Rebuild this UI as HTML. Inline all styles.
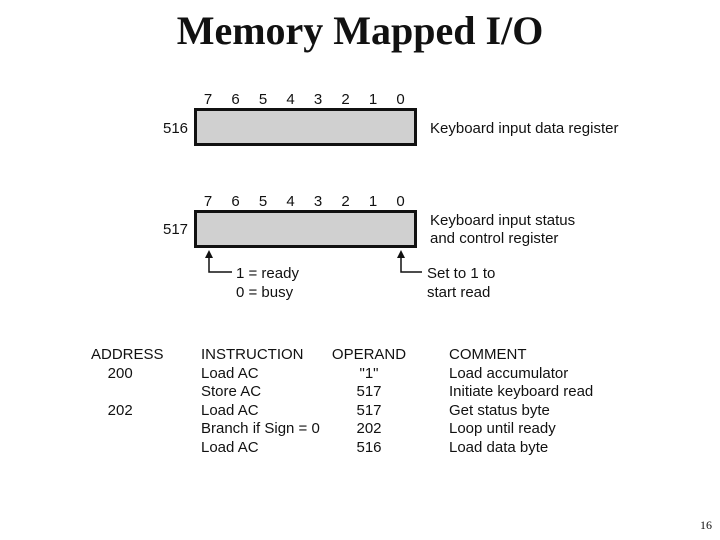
<!DOCTYPE html>
<html><head><style>
body{margin:0;width:720px;height:540px;background:#fff;position:relative;overflow:hidden;font-family:"Liberation Sans",sans-serif;color:#111}
.t{position:absolute;white-space:nowrap;font-size:15px;line-height:15px}
.b{position:absolute;font-size:15px;line-height:15px;width:14px;text-align:center}
.box{position:absolute;left:194px;width:217px;height:32px;background:#d0d0d0;border:3px solid #111}
.h{position:absolute;top:9px;left:0;width:720px;text-align:center;font-family:"Liberation Serif",serif;font-weight:bold;font-size:40px;line-height:44px}
</style></head><body>
<div class="h">Memory Mapped I/O</div>
<div class="b" style="left:201px;top:92px">7</div><div class="b" style="left:228.5px;top:92px">6</div><div class="b" style="left:256px;top:92px">5</div><div class="b" style="left:283.5px;top:92px">4</div><div class="b" style="left:311px;top:92px">3</div><div class="b" style="left:338.5px;top:92px">2</div><div class="b" style="left:366px;top:92px">1</div><div class="b" style="left:393.5px;top:92px">0</div>
<div class="box" style="top:108px"></div>
<div class="t" style="left:163px;top:121px">516</div>
<div class="t" style="left:430px;top:121px">Keyboard input data register</div>
<div class="b" style="left:201px;top:194px">7</div><div class="b" style="left:228.5px;top:194px">6</div><div class="b" style="left:256px;top:194px">5</div><div class="b" style="left:283.5px;top:194px">4</div><div class="b" style="left:311px;top:194px">3</div><div class="b" style="left:338.5px;top:194px">2</div><div class="b" style="left:366px;top:194px">1</div><div class="b" style="left:393.5px;top:194px">0</div>
<div class="box" style="top:210px"></div>
<div class="t" style="left:163px;top:222px">517</div>
<div class="t" style="left:430px;top:212px;line-height:18px">Keyboard input status<br>and control register</div>
<svg style="position:absolute;left:0;top:0" width="720" height="540">
<path d="M209 254V272H232M401 254V272H422" fill="none" stroke="#111" stroke-width="1.5"/>
<path d="M205 258L209 250L213 258ZM397 258L401 250L405 258Z" fill="#111"/>
</svg>
<div class="t" style="left:236px;top:264px;line-height:19px">1 = ready<br>0 = busy</div>
<div class="t" style="left:427px;top:264px;line-height:19px">Set to 1 to<br>start read</div>
<div class="t" style="left:91px;top:346px;line-height:18.6px">ADDRESS<br>&nbsp;&nbsp;&nbsp;&nbsp;200<br><br>&nbsp;&nbsp;&nbsp;&nbsp;202</div>
<div class="t" style="left:201px;top:346px;line-height:18.6px">INSTRUCTION<br>Load AC<br>Store AC<br>Load AC<br>Branch if Sign = 0<br>Load AC</div>
<div class="t" style="left:330px;top:346px;line-height:18.6px;text-align:center;width:78px">OPERAND<br>"1"<br>517<br>517<br>202<br>516</div>
<div class="t" style="left:449px;top:346px;line-height:18.6px">COMMENT<br>Load accumulator<br>Initiate keyboard read<br>Get status byte<br>Loop until ready<br>Load data byte</div>
<div style="position:absolute;left:700px;top:518px;font-family:'Liberation Serif',serif;font-size:12px">16</div>
</body></html>
